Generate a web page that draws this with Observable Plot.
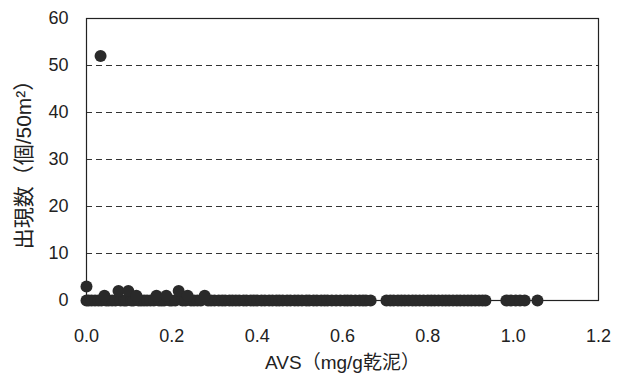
<!DOCTYPE html>
<html>
<head>
<meta charset="utf-8">
<script src="https://cdn.jsdelivr.net/npm/d3@7"></script>
<script src="https://cdn.jsdelivr.net/npm/@observablehq/plot@0.6"></script>
<style>
  html, body { margin: 0; padding: 0; background: #fff; }
  #chart { width: 618px; height: 376px; }
</style>
</head>
<body>
<div id="chart"></div>
<script>
// AVS (mg/g dry mud) values of observations with a count of zero
const zeroAVS = [0, 0.005, 0.012, 0.02, 0.028, 0.035, 0.046, 0.052, 0.06, 0.068, 0.08, 0.088, 0.093,
  0.105, 0.11, 0.122, 0.128, 0.135, 0.142, 0.15, 0.158, 0.17, 0.176, 0.182, 0.195, 0.2, 0.208,
  0.225, 0.232, 0.245, 0.252, 0.26, 0.268, 0.285, 0.292, 0.3, 0.31, 0.318, 0.325, 0.335, 0.342,
  0.35, 0.358, 0.368, 0.375, 0.385, 0.392, 0.4, 0.41, 0.418, 0.428, 0.436, 0.445, 0.452, 0.46,
  0.47, 0.478, 0.488, 0.496, 0.505, 0.515, 0.522, 0.532, 0.54, 0.55, 0.558, 0.565, 0.575, 0.585,
  0.595, 0.605, 0.612, 0.62, 0.63, 0.64, 0.648, 0.655, 0.666, 0.703, 0.712, 0.72, 0.73, 0.738,
  0.746, 0.755, 0.764, 0.772, 0.781, 0.79, 0.8, 0.808, 0.816, 0.825, 0.834, 0.842, 0.85, 0.859,
  0.868, 0.876, 0.885, 0.894, 0.902, 0.911, 0.92, 0.928, 0.935, 0.984, 0.995, 1.006, 1.016,
  1.027, 1.057];
// observations with a non-zero count
const nzAVS   = [0.0, 0.033, 0.042, 0.075, 0.098, 0.117, 0.164, 0.187, 0.216, 0.237, 0.277];
const nzCount = [3,   52,    1,     2,     2,     1,     1,     1,     2,     1,     1];

const xTicks = [0, 0.2, 0.4, 0.6, 0.8, 1.0, 1.2];
const yTicks = [0, 10, 20, 30, 40, 50, 60];
const gridY  = [10, 20, 30, 40, 50];
const xTitle = "AVS（mg/g乾泥）";
const yTitle = "出現数（個/50m²）";

const data = zeroAVS.map(x => ({x, y: 0}))
  .concat(nzAVS.map((x, i) => ({x, y: nzCount[i]})));

const font = "'Liberation Sans', 'Noto Sans CJK JP', sans-serif";

const chart = Plot.plot({
  width: 618,
  height: 376,
  marginLeft: 86,
  marginRight: 20,
  marginTop: 18,
  marginBottom: 76,
  style: {fontFamily: font, fontSize: "18px", color: "#222", background: "#fff"},
  x: {domain: [0, 1.2], ticks: xTicks, tickFormat: d3.format(".1f")},
  y: {domain: [0, 60], ticks: yTicks},
  marks: [
    Plot.ruleY(gridY, {stroke: "#333", strokeWidth: 1, strokeDasharray: "6,4"}),
    Plot.frame({stroke: "#222", strokeWidth: 1.2}),
    Plot.axisX({ticks: xTicks, tickFormat: d3.format(".1f"), tickSize: 0, tickPadding: 29, label: null, fill: "#222", fontSize: 18}),
    Plot.axisY({ticks: yTicks, tickSize: 0, tickPadding: 18, label: null, fill: "#222", fontSize: 18}),
    Plot.dot(data, {x: "x", y: "y", r: 6, fill: "#2a2a2a", stroke: "none"}),
    Plot.text([xTitle], {frameAnchor: "bottom", dy: 62, textAnchor: "middle", lineAnchor: "middle", fill: "#222", fontSize: 19}),
    Plot.text([yTitle], {frameAnchor: "left", dx: -62, rotate: -90, textAnchor: "middle", lineAnchor: "middle", fill: "#222", fontSize: 21})
  ]
});
document.getElementById("chart").appendChild(chart);
</script>
</body>
</html>
